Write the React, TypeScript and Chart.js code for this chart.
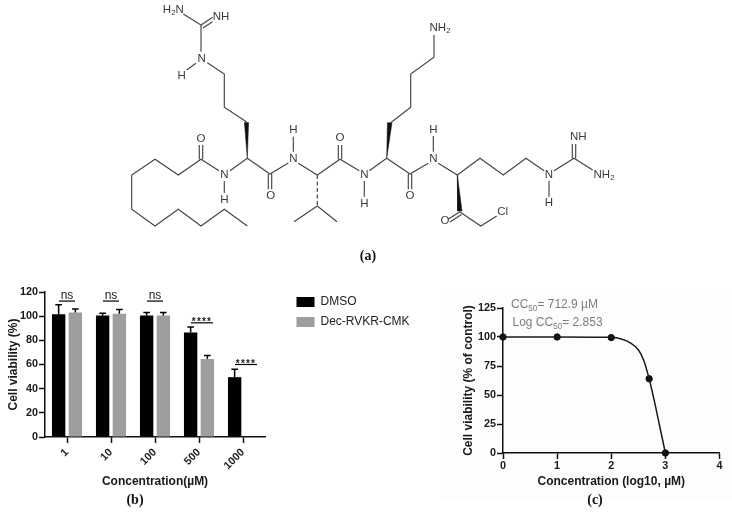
import React, { useEffect, useRef } from "react";
import { Chart, registerables } from "chart.js";

Chart.register(...registerables);

// ---------- panel (b) data ----------
const concentrations = ["1", "10", "100", "500", "1000"];
const dmsoValues = [101.5, 100.5, 100.5, 86.5, 49.5];
const dmsoUpper = [109.5, 102.5, 103, 91, 56];
const decValues = [103, 102, 100.5, 64.5, 0];
const decUpper = [106, 105.5, 103, 67.5, 0];
const sigLabels = ["ns", "ns", "ns", "****", "****"];
const sigHeights = [112.5, 112.5, 112.5, 94.5, 60];

// ---------- panel (c) data ----------
const measuredLog = [0, 1, 2, 2.7, 3];
const measuredViability = [100, 100, 99.5, 64, 0];
const curveLog = [0, 1, 2, 2.2, 2.35, 2.5, 2.6, 2.7, 2.8, 2.9, 3];
const curveViability = [100, 100, 99.7, 98, 95, 89, 80, 64, 44, 22, 0];
const cc50Notes = ["CC_50= 712.9 µM", "Log CC_50= 2.853"];

// ---------- panel (a) structure, in the drawing's own units ----------
const N = null;
const skeleton: (number | null)[][] = [
  [183.3, 14, 201, 25, 201, 51.7], [N, N],
  [201, 25, 212.7, 17.3], [N, N], [203, 28, 212.5, 21.7], [N, N],
  [196, 63.3, 186.7, 70], [N, N],
  [207.3, 62.7, 224.3, 74, 224.3, 107.3, 246.7, 122], [N, N],
  [247.3, 158.3, 230, 170.7], [N, N],
  [224.3, 181, 224.3, 193], [N, N],
  [219, 170.7, 201, 159.3, 178.3, 175, 155, 159.3, 131.7, 175, 131.7, 209.3, 155, 226, 178.3, 209.3, 201, 226, 224.3, 209.3, 247.3, 226], [N, N],
  [199.3, 159.3, 199.3, 145], [N, N], [202.7, 159.3, 202.7, 145], [N, N],
  [247.3, 158.3, 270, 174, 288.3, 163], [N, N],
  [268.3, 174, 268.3, 189.3], [N, N], [271.7, 174, 271.7, 189.3], [N, N],
  [293.3, 136.7, 293.3, 151.7], [N, N],
  [298.3, 163.3, 317.3, 175, 340, 159.3, 359.3, 170.7], [N, N],
  [294, 221.7, 317.3, 206, 337, 221.7], [N, N],
  [338.3, 159.3, 338.3, 145], [N, N], [341.7, 159.3, 341.7, 145], [N, N],
  [364.3, 181, 364.3, 196.7], [N, N],
  [369.3, 170.7, 386.7, 158.3, 410, 174, 428.3, 163.3], [N, N],
  [390.7, 122.7, 410.7, 107.3, 410.7, 74, 434, 57.3, 434, 35], [N, N],
  [408.3, 174, 408.3, 189.3], [N, N], [411.7, 174, 411.7, 189.3], [N, N],
  [433.3, 136, 433.3, 151.7], [N, N],
  [438.3, 163.3, 457.3, 175, 480, 158.3, 503.3, 175, 526, 158.3, 544, 170.7], [N, N],
  [549, 180.7, 549, 196.7], [N, N],
  [554, 170.7, 574, 158.3, 592.7, 170], [N, N],
  [572.3, 158.3, 572.3, 144], [N, N], [575.7, 158.3, 575.7, 144], [N, N],
  [460, 211.7, 448.5, 219], [N, N], [461.5, 214.5, 450, 222], [N, N],
  [460, 212, 480.7, 226, 496.7, 216],
];
const wedges = [
  [247.3, 158.3, 244.4, 122.5, 248.6, 122.5],
  [386.7, 158.3, 387.4, 122.7, 392, 122.7],
  [457.3, 175, 457.6, 211, 462, 211],
];
const hashedBond = [317.3, 175, 317.3, 206];
const atomLabels = ["H_2N", "NH", "N", "H", "N", "H", "O", "O", "N", "H", "N", "H", "O", "N", "H", "O", "N", "H", "NH", "NH_2", "NH_2", "O", "Cl"];
const atomX = [173.3, 221, 201.7, 181.7, 224.3, 224.3, 201, 270.7, 293.3, 293.3, 364.3, 364.3, 340, 433.3, 433.3, 410, 549, 549, 578.3, 604, 440, 445, 502.7];
const atomY = [10, 16.7, 59.3, 76, 175, 200, 139, 195.7, 159.3, 130, 175, 204, 138.3, 159.3, 130, 195.7, 175, 203.3, 136.7, 175, 28.3, 220.7, 211.7];

const toPts = (flat: (number | null)[]) => {
  const out: { x: number; y: number }[] = [];
  for (let i = 0; i < flat.length; i += 2) out.push({ x: flat[i] as number, y: flat[i + 1] as number });
  return out;
};

const SANS = "'Liberation Sans', Arial, sans-serif";

// draws text where _NN means a subscript
function richText(ctx: CanvasRenderingContext2D, text: string, x: number, y: number, size: number, center: boolean) {
  const parts = text.split(/_(\d+)/);
  const fontA = `${size}px ${SANS}`;
  const fontB = `${size * 0.68}px ${SANS}`;
  let w = 0;
  parts.forEach((p, i) => {
    ctx.font = i % 2 ? fontB : fontA;
    w += ctx.measureText(p).width;
  });
  let cx = center ? x - w / 2 : x;
  parts.forEach((p, i) => {
    ctx.font = i % 2 ? fontB : fontA;
    ctx.fillText(p, cx, i % 2 ? y + size * 0.25 : y);
    cx += ctx.measureText(p).width;
  });
}

const atomPlugin = {
  id: "atoms",
  afterDatasetsDraw(chart: any) {
    const { ctx, scales } = chart;
    ctx.save();
    ctx.fillStyle = "#3a3a3a";
    ctx.textBaseline = "middle";
    ctx.textAlign = "left";
    atomLabels.forEach((t, i) => {
      richText(ctx, t, scales.x.getPixelForValue(atomX[i]), scales.y.getPixelForValue(atomY[i]), 11.5, true);
    });
    ctx.restore();
  },
};

const barExtras = {
  id: "barExtras",
  afterLayout(chart: any) {
    const lg = chart.legend;
    lg.left = 288.5;
    lg.right = 430;
    lg.top = 8;
    lg.bottom = 60;
  },
  afterDatasetsDraw(chart: any) {
    const { ctx, scales } = chart;
    const { x, y } = scales;
    ctx.save();
    ctx.strokeStyle = "#000";
    ctx.lineWidth = 1.5;
    [dmsoUpper, decUpper].forEach((upper, ds) => {
      const meta = chart.getDatasetMeta(ds);
      const vals = ds === 0 ? dmsoValues : decValues;
      upper.forEach((u, i) => {
        if (!u) return;
        const bx = meta.data[i].x;
        const y0 = y.getPixelForValue(vals[i]);
        const y1 = y.getPixelForValue(u);
        ctx.beginPath();
        ctx.moveTo(bx, y0);
        ctx.lineTo(bx, y1);
        ctx.moveTo(bx - 3.3, y1);
        ctx.lineTo(bx + 3.3, y1);
        ctx.stroke();
      });
    });
    ctx.lineWidth = 1.2;
    ctx.fillStyle = "#222";
    ctx.textAlign = "center";
    sigLabels.forEach((t, i) => {
      const cx = x.getPixelForValue(i);
      const py = y.getPixelForValue(sigHeights[i]);
      const stars = t !== "ns";
      const l = cx - 8;
      const r = stars ? cx + 14 : cx + 8;
      ctx.beginPath();
      ctx.moveTo(l, py);
      ctx.lineTo(r, py);
      ctx.stroke();
      ctx.font = stars ? `bold 10px ${SANS}` : `12px ${SANS}`;
      ctx.letterSpacing = stars ? "1.2px" : "0px";
      ctx.textBaseline = "alphabetic";
      ctx.fillText(t, (l + r) / 2, stars ? py + 2 : py - 2.5);
    });
    ctx.restore();
  },
};

const curveNotes = {
  id: "curveNotes",
  afterDatasetsDraw(chart: any) {
    const { ctx } = chart;
    ctx.save();
    ctx.fillStyle = "#7d7d7d";
    ctx.textBaseline = "alphabetic";
    ctx.textAlign = "left";
    richText(ctx, cc50Notes[0], 71, 13, 12, false);
    richText(ctx, cc50Notes[1], 72.5, 31, 12, false);
    ctx.restore();
  },
};

const tickFont = { family: SANS, size: 10.8, weight: "bold" as const };
const titleFont = { family: SANS, size: 12, weight: "bold" as const };

function axisBase() {
  return {
    border: { display: true, color: "#111", width: 1.5 },
    grid: { drawOnChartArea: false, drawTicks: true, tickLength: 6, tickWidth: 1.5, tickColor: "#111", offset: false },
    ticks: { color: "#1a1a1a", font: tickFont, padding: 1 },
  };
}

function useChart(make: (c: HTMLCanvasElement) => Chart) {
  const ref = useRef<HTMLCanvasElement>(null);
  useEffect(() => {
    const chart = make(ref.current as HTMLCanvasElement);
    return () => chart.destroy();
  }, []);
  return ref;
}

const canvasStyle = (left: number, top: number): React.CSSProperties => ({ position: "absolute", left, top });
const panelLabel = (left: number, top: number): React.CSSProperties => ({
  position: "absolute",
  left,
  top,
  width: 40,
  textAlign: "center",
  font: "bold 14px 'Liberation Serif', serif",
  color: "#111",
  lineHeight: "16px",
});

export default function App() {
  const aRef = useChart((c) =>
    new Chart(c, {
      type: "scatter",
      data: {
        datasets: [
          {
            data: toPts(skeleton.flat()),
            showLine: true,
            spanGaps: false,
            pointRadius: 0,
            borderColor: "#444",
            borderWidth: 1.15,
          },
          {
            data: toPts(hashedBond),
            showLine: true,
            pointRadius: 0,
            borderColor: "#444",
            borderWidth: 1.2,
            borderDash: [4, 2.5],
          },
          ...wedges.map((w) => ({
            data: toPts([...w, w[0], w[1]]),
            showLine: true,
            pointRadius: 0,
            borderColor: "#111",
            borderWidth: 0.5,
            backgroundColor: "#111",
            fill: "shape" as const,
          })),
        ],
      },
      options: {
        animation: false,
        responsive: false,
        layout: { padding: 0 },
        plugins: { legend: { display: false }, tooltip: { enabled: false } },
        scales: {
          x: { type: "linear", display: false, min: 0, max: 732 },
          y: { type: "linear", display: false, min: 0, max: 270, reverse: true },
        },
      },
      plugins: [atomPlugin],
    } as any)
  );

  const bRef = useChart((c) =>
    new Chart(c, {
      type: "bar",
      data: {
        labels: concentrations,
        datasets: [
          { label: "DMSO", data: dmsoValues, backgroundColor: "#000" },
          { label: "Dec-RVKR-CMK", data: decValues, backgroundColor: "#9e9e9e" },
        ],
      },
      options: {
        animation: false,
        responsive: false,
        datasets: { bar: { categoryPercentage: 0.76, barPercentage: 0.8 } },
        layout: { padding: { top: 12, right: 165, left: 0, bottom: 0 } },
        plugins: {
          tooltip: { enabled: false },
          legend: {
            position: "chartArea",
            align: "start",
            labels: { boxWidth: 18, boxHeight: 10, padding: 8, color: "#222", font: { family: SANS, size: 12 } },
          },
        },
        scales: {
          x: {
            ...axisBase(),
            afterFit: (s: any) => { s.height = 63; },
            ticks: { ...axisBase().ticks, maxRotation: 45, minRotation: 45, autoSkip: false, padding: 3 },
            title: { display: true, text: "Concentration(µM)", color: "#1a1a1a", font: titleFont, padding: { top: 0, bottom: 11 } },
          },
          y: {
            ...axisBase(),
            min: 0,
            max: 120,
            afterFit: (s: any) => { s.width = 45; },
            ticks: { ...axisBase().ticks, stepSize: 20 },
            title: { display: true, text: "Cell viability (%)", color: "#1a1a1a", font: titleFont, padding: { top: 6, bottom: 0 } },
          },
        },
      },
      plugins: [barExtras],
    } as any)
  );

  const cRef = useChart((c) =>
    new Chart(c, {
      type: "scatter",
      data: {
        datasets: [
          {
            data: curveLog.map((x, i) => ({ x, y: curveViability[i] })),
            showLine: true,
            pointRadius: 0,
            borderColor: "#1a1a1a",
            borderWidth: 1.5,
            cubicInterpolationMode: "monotone",
            clip: false,
          },
          {
            data: measuredLog.map((x, i) => ({ x, y: measuredViability[i] })),
            showLine: false,
            pointRadius: 3.2,
            pointBackgroundColor: "#111",
            pointBorderColor: "#111",
            clip: false,
          },
        ],
      },
      options: {
        animation: false,
        responsive: false,
        layout: { padding: { top: 13, right: 12.5, left: 0, bottom: 0 } },
        plugins: { legend: { display: false }, tooltip: { enabled: false } },
        scales: {
          x: {
            ...axisBase(),
            type: "linear",
            min: 0,
            max: 4,
            afterFit: (s: any) => { s.height = 47; },
            ticks: { ...axisBase().ticks, stepSize: 1 },
            title: { display: true, text: "Concentration (log10, µM)", color: "#1a1a1a", font: titleFont, padding: { top: 0, bottom: 11 } },
          },
          y: {
            ...axisBase(),
            type: "linear",
            min: 0,
            max: 125,
            afterFit: (s: any) => { s.width = 63; },
            ticks: { ...axisBase().ticks, stepSize: 25 },
            title: { display: true, text: "Cell viability (% of control)", color: "#1a1a1a", font: titleFont, padding: { top: 21, bottom: 0 } },
          },
        },
      },
      plugins: [curveNotes],
    } as any)
  );

  return (
    <div style={{ position: "absolute", left: 0, top: 0, width: 732, height: 514, background: "#fff", overflow: "hidden", filter: "blur(0.35px)" }}>
      <canvas ref={aRef} width={732} height={270} style={canvasStyle(0, 0)} />
      <canvas ref={bRef} width={430} height={220} style={canvasStyle(0, 280)} />
      <canvas ref={cRef} width={292} height={205} style={{ ...canvasStyle(440, 295), background: "#fdfdfc" }} />
      <div style={panelLabel(348, 248)}>(a)</div>
      <div style={panelLabel(115, 492)}>(b)</div>
      <div style={panelLabel(575, 492)}>(c)</div>
    </div>
  );
}
